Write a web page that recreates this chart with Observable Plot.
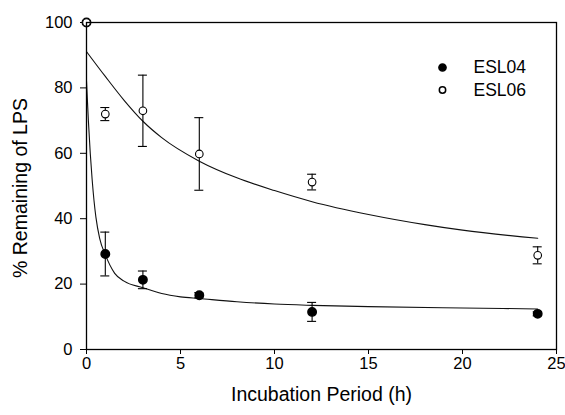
<!DOCTYPE html>
<html>
<head>
<meta charset="utf-8">
<script src="https://cdn.jsdelivr.net/npm/d3@7"></script>
<script src="https://cdn.jsdelivr.net/npm/@observablehq/plot@0.6"></script>
<style>
  html, body { margin: 0; padding: 0; background: #fff; }
  #chart { width: 565px; height: 415px; }
</style>
</head>
<body>
<div id="chart"></div>
<script>
// Measured data
const hours = [0, 1, 3, 6, 12, 24];
const esl04 = [100, 29.2, 21.3, 16.6, 11.5, 10.9];
const esl04Err = [0, 6.7, 2.7, 0.8, 2.9, 0.6];
const esl06 = [100, 72.0, 73.0, 59.8, 51.2, 28.8];
const esl06Err = [0, 2.0, 10.9, 11.1, 2.4, 2.6];

// Fitted curves
const fitHours04 = [0, 0.1, 0.2, 0.3, 0.4, 0.5, 0.7, 1, 1.5, 2, 3, 4, 5, 6, 8, 10, 12, 15, 20, 24];
const fit04 = [82, 70, 60, 52, 45.5, 40.5, 34, 29, 23.3, 20.9, 18.9, 17.1, 16.1, 15.6, 14.6, 13.9, 13.5, 13.1, 12.7, 12.4];
const fitHours06 = [0, 1, 2, 3, 4, 6, 8, 10, 12, 15, 18, 20, 24];
const fit06 = [91.1, 83.5, 76.2, 69.8, 64.8, 57.6, 52.5, 48.6, 45.2, 41.3, 38.2, 36.5, 34.0];

const seriesNames = ["ESL04", "ESL06"];
const xTicks = [0, 5, 10, 15, 20, 25];
const yTicks = [0, 20, 40, 60, 80, 100];

const pts04 = hours.map((h, i) => ({x: h, y: esl04[i], e: esl04Err[i]}));
const pts06 = hours.map((h, i) => ({x: h, y: esl06[i], e: esl06Err[i]}));
const errs = [...pts04, ...pts06].filter(d => d.e > 0);
const curve04 = fitHours04.map((h, i) => ({x: h, y: fit04[i]}));
const curve06 = fitHours06.map((h, i) => ({x: h, y: fit06[i]}));
const legend = seriesNames.map((name, i) => ({name, i}));

const chart = Plot.plot({
  width: 565,
  height: 415,
  marginLeft: 86,
  marginRight: 9,
  marginTop: 22,
  marginBottom: 66,
  style: {fontFamily: "'Liberation Sans', Arial, sans-serif", background: "#fff", color: "#000"},
  x: {domain: [0, 25], ticks: xTicks},
  y: {domain: [0, 100], ticks: yTicks},
  marks: [
    Plot.axisX({ticks: xTicks, tickSize: 5, tickPadding: 3, fontSize: 16.5, label: null}),
    Plot.axisY({ticks: yTicks, tickSize: 6, tickPadding: 8, fontSize: 16.5, label: null}),
    Plot.text(["Incubation Period (h)"], {frameAnchor: "bottom", dy: 45, lineAnchor: "middle", textAnchor: "middle", fontSize: 19.5, fill: "#000"}),
    Plot.text(["% Remaining of LPS"], {frameAnchor: "left", dx: -66, dy: 2, rotate: -90, lineAnchor: "middle", textAnchor: "middle", fontSize: 19.5, fill: "#000"}),
    Plot.line(curve06, {x: "x", y: "y", curve: "monotone-x", stroke: "#111", strokeWidth: 1.1}),
    Plot.line(curve04, {x: "x", y: "y", curve: "monotone-x", stroke: "#111", strokeWidth: 1.1}),
    Plot.ruleX(errs, {x: "x", y1: d => d.y - d.e, y2: d => d.y + d.e, stroke: "#000", strokeWidth: 1.1}),
    Plot.ruleY(errs, {x1: "x", x2: "x", y: d => d.y + d.e, insetLeft: -4.5, insetRight: -4.5, stroke: "#000", strokeWidth: 1.1}),
    Plot.ruleY(errs, {x1: "x", x2: "x", y: d => d.y - d.e, insetLeft: -4.5, insetRight: -4.5, stroke: "#000", strokeWidth: 1.1}),
    Plot.dot(pts04, {x: "x", y: "y", r: 4.2, fill: "#000", stroke: "#000"}),
    Plot.dot(pts06, {x: "x", y: "y", r: 3.8, fill: "#fff", stroke: "#000", strokeWidth: 1.1}),
    Plot.frame({stroke: "#000", strokeWidth: 1.3}),
    // legend
    Plot.dot(legend, {frameAnchor: "top-right", dx: -114, dy: 45, fill: "#000", stroke: "#000", r: 3.6, filter: d => d.i === 0}),
    Plot.dot(legend, {frameAnchor: "top-right", dx: -114, dy: 67.5, fill: "#fff", stroke: "#000", r: 3.2, filter: d => d.i === 1}),
    Plot.text(legend, {frameAnchor: "top-right", dx: -83, dy: 45, text: "name", textAnchor: "start", lineAnchor: "middle", fontSize: 17.5, fill: "#000", filter: d => d.i === 0}),
    Plot.text(legend, {frameAnchor: "top-right", dx: -83, dy: 67.5, text: "name", textAnchor: "start", lineAnchor: "middle", fontSize: 17.5, fill: "#000", filter: d => d.i === 1})
  ]
});
document.getElementById("chart").appendChild(chart);
</script>
</body>
</html>
